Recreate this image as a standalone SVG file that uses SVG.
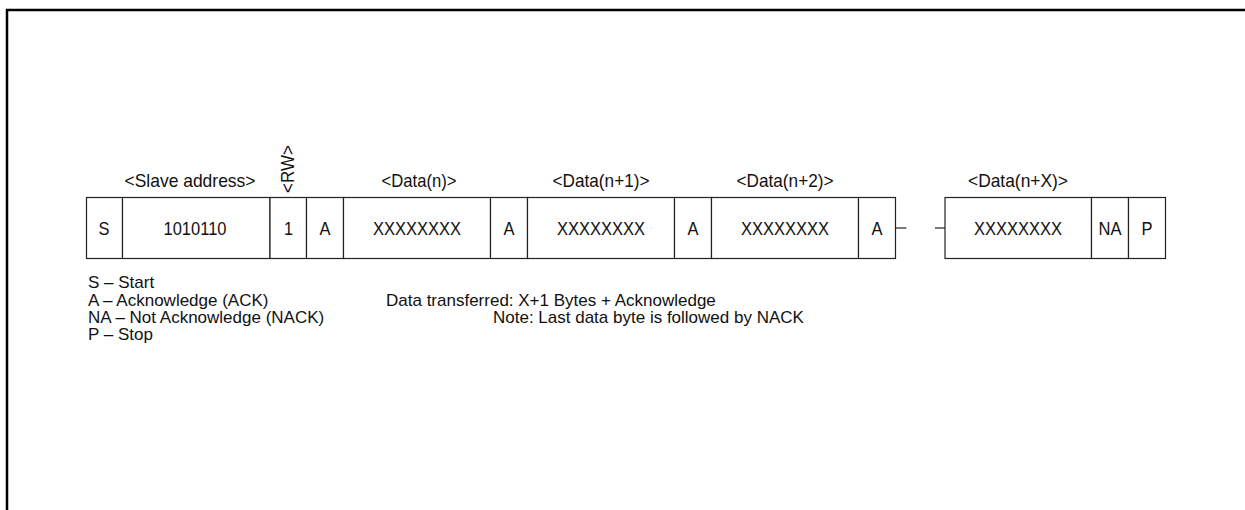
<svg xmlns="http://www.w3.org/2000/svg" width="1245" height="510" viewBox="0 0 1245 510">
<style>
text{font-family:"Liberation Sans",Arial,sans-serif;fill:#111}
.cell{fill:#fff;stroke:#222;stroke-width:1.2}
.c{font-size:19px;text-anchor:middle;dominant-baseline:central}
.lbl{font-size:19px;text-anchor:middle}
.leg{font-size:17px}
.ln{stroke:#222;stroke-width:1.2;fill:none}
</style>
<rect width="1245" height="510" fill="#fff"/>
<path d="M7 510 V10 H1245" fill="none" stroke="#000" stroke-width="2.5"/>
<g id="labels">
<text class="lbl" x="190" y="187" textLength="131" lengthAdjust="spacingAndGlyphs">&lt;Slave address&gt;</text>
<text class="lbl" transform="translate(294,169) rotate(-90)" textLength="48" lengthAdjust="spacingAndGlyphs">&lt;RW&gt;</text>
<text class="lbl" x="419" y="187" textLength="75" lengthAdjust="spacingAndGlyphs">&lt;Data(n)&gt;</text>
<text class="lbl" x="601" y="187" textLength="97" lengthAdjust="spacingAndGlyphs">&lt;Data(n+1)&gt;</text>
<text class="lbl" x="785" y="187" textLength="97" lengthAdjust="spacingAndGlyphs">&lt;Data(n+2)&gt;</text>
<text class="lbl" x="1018" y="187" textLength="100" lengthAdjust="spacingAndGlyphs">&lt;Data(n+X)&gt;</text>
</g>
<g id="frame1">
<rect class="cell" x="86.5" y="197.5" width="36" height="61"/>
<text class="c" x="104" y="228" textLength="11" lengthAdjust="spacingAndGlyphs">S</text>
<rect class="cell" x="122.5" y="197.5" width="147.5" height="61"/>
<text class="c" x="195" y="228" textLength="63" lengthAdjust="spacingAndGlyphs">1010110</text>
<rect class="cell" x="270" y="197.5" width="36.5" height="61"/>
<text class="c" x="288.5" y="228" textLength="9" lengthAdjust="spacingAndGlyphs">1</text>
<rect class="cell" x="306.5" y="197.5" width="37" height="61"/>
<text class="c" x="325" y="228" textLength="11" lengthAdjust="spacingAndGlyphs">A</text>
<rect class="cell" x="343.5" y="197.5" width="147" height="61"/>
<text class="c" x="417" y="228" textLength="88" lengthAdjust="spacingAndGlyphs">XXXXXXXX</text>
<rect class="cell" x="490.5" y="197.5" width="37" height="61"/>
<text class="c" x="509" y="228" textLength="11" lengthAdjust="spacingAndGlyphs">A</text>
<rect class="cell" x="527.5" y="197.5" width="147" height="61"/>
<text class="c" x="601" y="228" textLength="88" lengthAdjust="spacingAndGlyphs">XXXXXXXX</text>
<rect class="cell" x="674.5" y="197.5" width="37" height="61"/>
<text class="c" x="693" y="228" textLength="11" lengthAdjust="spacingAndGlyphs">A</text>
<rect class="cell" x="711.5" y="197.5" width="147" height="61"/>
<text class="c" x="785" y="228" textLength="88" lengthAdjust="spacingAndGlyphs">XXXXXXXX</text>
<rect class="cell" x="858.5" y="197.5" width="37" height="61"/>
<text class="c" x="877" y="228" textLength="11" lengthAdjust="spacingAndGlyphs">A</text>
</g>
<g id="frame2">
<rect class="cell" x="945" y="197.5" width="146.5" height="61"/>
<text class="c" x="1018" y="228" textLength="88" lengthAdjust="spacingAndGlyphs">XXXXXXXX</text>
<rect class="cell" x="1091.5" y="197.5" width="37" height="61"/>
<text class="c" x="1110" y="228" textLength="23" lengthAdjust="spacingAndGlyphs">NA</text>
<rect class="cell" x="1128.5" y="197.5" width="37" height="61"/>
<text class="c" x="1147" y="228" textLength="11" lengthAdjust="spacingAndGlyphs">P</text>
</g>
<g id="connectors">
<line class="ln" x1="895.5" y1="228" x2="906.5" y2="228"/>
<line class="ln" x1="935" y1="228" x2="945" y2="228"/>
</g>
<g id="legend">
<text class="leg" x="88" y="288">S – Start</text>
<text class="leg" x="88" y="306">A – Acknowledge (ACK)</text>
<text class="leg" x="88" y="323">NA – Not Acknowledge (NACK)</text>
<text class="leg" x="88" y="340">P – Stop</text>
<text class="leg" x="386" y="306">Data transferred: X+1 Bytes + Acknowledge</text>
<text class="leg" x="493" y="323">Note: Last data byte is followed by NACK</text>
</g>
</svg>
